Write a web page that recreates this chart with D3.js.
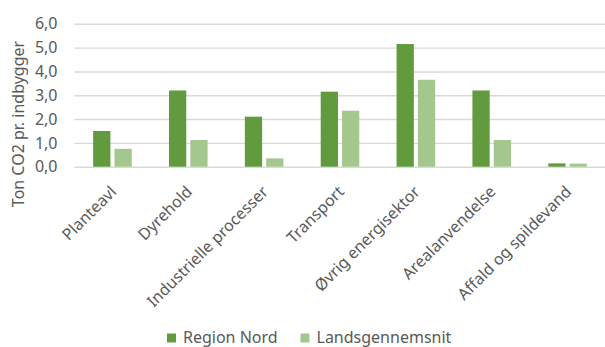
<!DOCTYPE html>
<html>
<head>
<meta charset="utf-8">
<script src="https://cdn.jsdelivr.net/npm/d3@7/dist/d3.min.js"></script>
<style>
  html, body { margin: 0; padding: 0; background: #fff; }
  svg { display: block; font-family: "Noto Sans", "Open Sans", sans-serif; }
</style>
</head>
<body>
<svg id="chart" width="605" height="347"></svg>
<script>
// Emissions per inhabitant by sector (ton CO2)
const categories = ["Planteavl", "Dyrehold", "Industrielle processer", "Transport", "Øvrig energisektor", "Arealanvendelse", "Affald og spildevand"];
const seriesNames = ["Region Nord", "Landsgennemsnit"];
const regionNord = [1.5, 3.2, 2.1, 3.15, 5.15, 3.2, 0.14];
const landsgennemsnit = [0.75, 1.12, 0.35, 2.35, 3.65, 1.12, 0.13];
const yTicks = [0, 1, 2, 3, 4, 5, 6];
const colors = ["#629B3E", "#A4C78E"];

const seriesValues = [regionNord, landsgennemsnit];
const rows = categories.map((c, i) => ({
  category: c,
  values: seriesNames.map((s, j) => ({ series: s, value: seriesValues[j][i], color: colors[j] }))
}));

const svg = d3.select("#chart");
const textColor = "#595959";
const fmt = v => d3.format(".1f")(v).replace(".", ",");

const plot = { left: 74.5, right: 605.5, top: 23.8, bottom: 166.7 };

const x0 = d3.scaleBand().domain(categories).range([plot.left, plot.right]);
const groupWidth = 38.6;
const x1 = d3.scaleBand().domain(seriesNames)
  .range([(x0.bandwidth() - groupWidth) / 2, (x0.bandwidth() + groupWidth) / 2])
  .paddingInner(0.19);
const y = d3.scaleLinear().domain([0, 6]).range([plot.bottom, plot.top]);

// Horizontal gridlines with tick labels
const yAxis = d3.axisLeft(y).tickValues(yTicks).tickFormat(fmt)
  .tickSize(-(plot.right - plot.left)).tickPadding(17);
const gy = svg.append("g").attr("transform", `translate(${plot.left},0)`).call(yAxis);
gy.select(".domain").remove();
gy.selectAll(".tick line").attr("stroke", "#d9d9d9").attr("stroke-width", 1.4);
gy.selectAll(".tick text").attr("fill", textColor).attr("font-size", 16)
  .attr("font-family", "Noto Sans, sans-serif");

// Bars
const groups = svg.append("g").selectAll("g").data(rows).join("g")
  .attr("transform", d => `translate(${x0(d.category)},0)`);
groups.selectAll("rect").data(d => d.values).join("rect")
  .attr("x", d => x1(d.series))
  .attr("width", x1.bandwidth())
  .attr("y", d => y(d.value))
  .attr("height", d => y(0) - y(d.value))
  .attr("fill", d => d.color);

// Category labels, rotated
const xAxis = d3.axisBottom(x0).tickSize(0).tickPadding(0);
const gx = svg.append("g").attr("transform", `translate(0,${plot.bottom})`).call(xAxis);
gx.select(".domain").remove();
gx.selectAll(".tick text")
  .attr("fill", textColor).attr("font-size", 16)
  .attr("font-family", "Noto Sans, sans-serif")
  .attr("text-anchor", "end")
  .attr("dy", null)
  .attr("transform", "translate(5,26) rotate(-45)");

// Y axis title
svg.append("text")
  .attr("transform", "translate(24,124) rotate(-90)")
  .attr("text-anchor", "middle")
  .attr("fill", textColor).attr("font-size", 16)
  .text("Ton CO2 pr. indbygger");

// Legend
const legendX = [167, 300.5];
const legend = svg.append("g").selectAll("g").data(seriesNames).join("g")
  .attr("transform", (d, i) => `translate(${legendX[i]},333.5)`);
legend.append("rect").attr("width", 9).attr("height", 9)
  .attr("fill", (d, i) => colors[i]);
legend.append("text").attr("x", 16).attr("y", 9.5)
  .attr("fill", textColor).attr("font-size", 16)
  .text(d => d);
</script>
</body>
</html>
